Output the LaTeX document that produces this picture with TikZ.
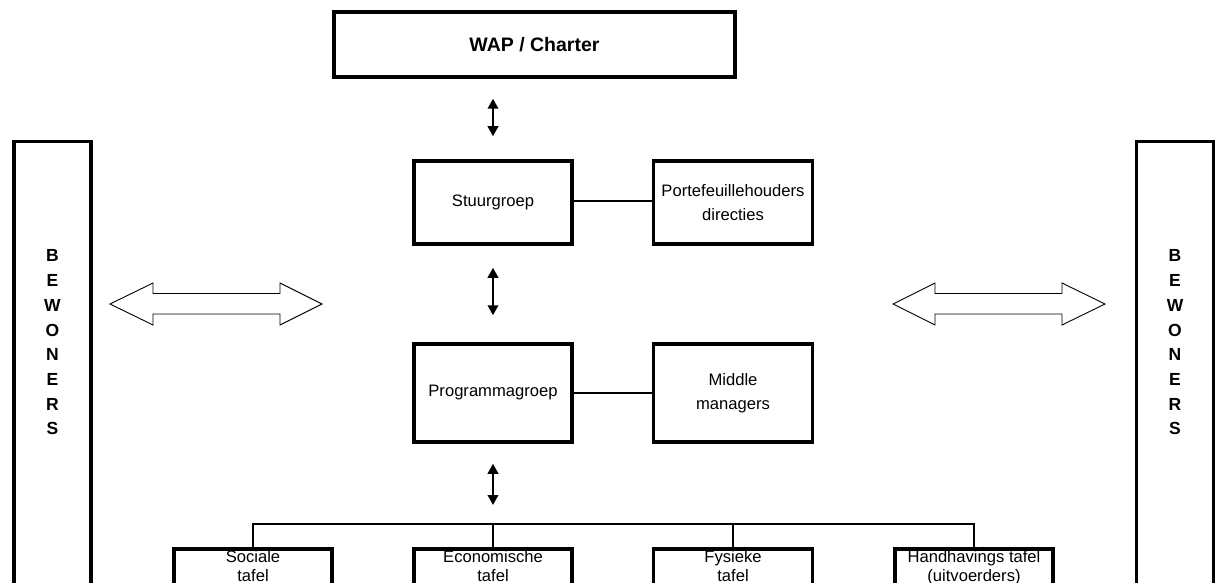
\documentclass[tikz,border=0pt]{standalone}
\usepackage{fontspec}
\setmainfont{Liberation Sans}
\usetikzlibrary{arrows.meta,calc}
\tikzset{
  box/.style={draw, line width=3.5pt, inner sep=0pt, font=\fontsize{16.6}{24}\selectfont, align=center},
  tbox/.style={draw, line width=3.5pt, inner sep=0pt, anchor=north, minimum width=158pt, minimum height=90pt},
  ttext/.style={inner sep=0pt, anchor=north, align=center, font=\fontsize{16.6}{19}\selectfont},
  bew/.style={draw, line width=3.5pt, inner sep=0pt, anchor=north, minimum width=77pt, minimum height=500pt},
  bewtext/.style={inner sep=0pt, align=center, font=\bfseries\fontsize{17.5}{24.7}\selectfont},
  link/.style={line width=2pt},
  biarrow/.style={line width=2pt, {Triangle[length=10pt,width=10.5pt]}-{Triangle[length=10pt,width=10.5pt]}},
  hollow/.style={draw, line width=0.9pt, fill=white, line join=miter}
}
\begin{document}
\begin{tikzpicture}[x=1pt,y=-1pt]
\useasboundingbox (0,0) rectangle (1216,583);
\clip (0,0) rectangle (1216,583);
% top box
\node[box, minimum width=401pt, minimum height=65pt, font=\bfseries\fontsize{19.5}{24}\selectfont] (wap) at (534.5,44.5) {WAP / Charter};
% middle boxes
\node[box, minimum width=158pt, minimum height=83pt] (stuur) at (493,202.5) {Stuurgroep};
\node[box, minimum width=159pt, minimum height=83pt] (port) at (733,202.5) {Portefeuillehouders\\directies};
\node[box, minimum width=158pt, minimum height=98pt] (prog) at (493,393) {Programmagroep};
\node[box, minimum width=159pt, minimum height=98pt] (mid) at (733,393) {Middle\\managers};
\draw[link] ([yshift=1.5pt]stuur.east) -- ([yshift=1.5pt]port.west);
\draw[link] (prog.east) -- (mid.west);
% vertical arrows
\draw[biarrow, shorten <=20pt, shorten >=23pt] (stuur.north |- wap.south) -- (stuur.north);
\draw[biarrow, shorten <=22pt, shorten >=27pt] (stuur.south) -- (prog.north);
\coordinate (bus) at (493,524);
\draw[biarrow, shorten <=20pt, shorten >=19pt] (prog.south) -- (bus);
% bottom boxes
\node[tbox] (soc) at (253,547) {};
\node[tbox] (eco) at (493,547) {};
\node[tbox, minimum width=159pt] (fys) at (733,547) {};
\node[tbox] (hand) at (974,547) {};
\node[ttext] (soct) at ([yshift=-3pt]soc.north) {Sociale\\tafel};
\node[ttext] (ecot) at ([yshift=-3pt]eco.north) {Economische\\tafel};
\node[ttext] (fyst) at ([yshift=-3pt]fys.north) {Fysieke\\tafel};
\node[ttext] (handt) at ([yshift=-3pt]hand.north) {Handhavings tafel\\(uitvoerders)};
\draw[link] (soc.north) |- (bus) -| (hand.north);
\draw[link] (bus) -- (eco.north);
\draw[link] (bus -| fys.north) -- (fys.north);
% bewoners
\node[bew] (bewl) at (52.5,140) {};
\node[bew] (bewr) at (1175,140) {};
\node[bewtext] (bewlt) at (52.5,342.5) {B\\E\\W\\O\\N\\E\\R\\S};
\node[bewtext] (bewrt) at (1175,342.5) {B\\E\\W\\O\\N\\E\\R\\S};
% hollow double arrows
\draw[hollow] (110,304) -- (153,283) -- (153,293.5) -- (280,293.5) -- (280,283) -- (322,304) -- (280,325) -- (280,314) -- (153,314) -- (153,325) -- cycle;
\draw[hollow] (893,304) -- (935,283) -- (935,293.5) -- (1062,293.5) -- (1062,283) -- (1105,304) -- (1062,325) -- (1062,314) -- (935,314) -- (935,325) -- cycle;
\end{tikzpicture}
\end{document}
